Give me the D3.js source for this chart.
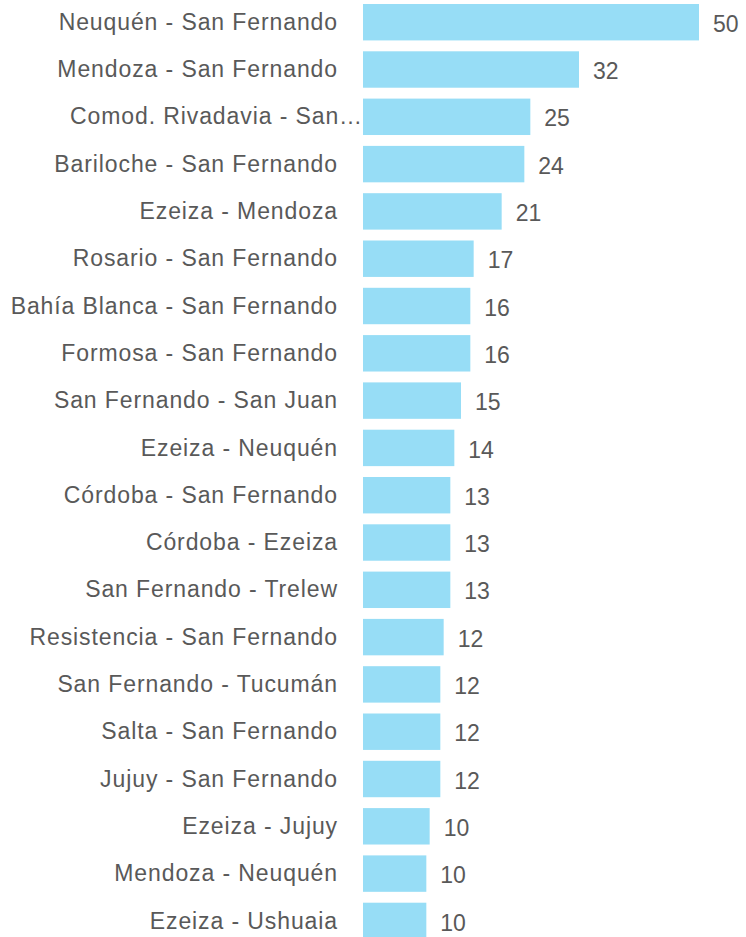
<!DOCTYPE html>
<html lang="es">
<head>
    <meta charset="UTF-8">
    <title>Rutas</title>
    <script src="https://d3js.org/d3.v7.min.js"></script>
    <style>
        body { margin: 0; background: #fff; }
        text { font-family: Arial, "Liberation Sans", Helvetica, sans-serif; }
    </style>
</head>
<body>
    <div id="chart"></div>
    <script>
        // rutas (categorías)
        const routes = [
            "Neuquén - San Fernando",
            "Mendoza - San Fernando",
            "Comod. Rivadavia - San Fernando",
            "Bariloche - San Fernando",
            "Ezeiza - Mendoza",
            "Rosario - San Fernando",
            "Bahía Blanca - San Fernando",
            "Formosa - San Fernando",
            "San Fernando - San Juan",
            "Ezeiza - Neuquén",
            "Córdoba - San Fernando",
            "Córdoba - Ezeiza",
            "San Fernando - Trelew",
            "Resistencia - San Fernando",
            "San Fernando - Tucumán",
            "Salta - San Fernando",
            "Jujuy - San Fernando",
            "Ezeiza - Jujuy",
            "Mendoza - Neuquén",
            "Ezeiza - Ushuaia"
        ];

        // valores (largo de barra)
        const values = [50.4, 32.4, 25.1, 24.2, 20.8, 16.6, 16.1, 16.1, 14.7, 13.7,
                        13.1, 13.1, 13.1, 12.1, 11.6, 11.6, 11.6, 10.0, 9.5, 9.5];

        const data = routes.map((r, i) => ({route: r, value: values[i]}));

        const width = 746, height = 937;
        const x0 = 363;          // inicio de las barras
        const labelEnd = 338;    // borde derecho de las etiquetas

        const svg = d3.select("#chart")
            .append("svg")
            .attr("width", width)
            .attr("height", height);

        const x = d3.scaleLinear()
            .domain([0, d3.max(values)])
            .range([x0, x0 + 336]);

        const y = d3.scaleBand()
            .domain(routes)
            .range([-1.44, 944.56])
            .paddingInner(0.23)
            .paddingOuter(0.115);

        // barras
        svg.selectAll("rect")
            .data(data)
            .join("rect")
            .attr("x", x(0))
            .attr("y", d => y(d.route))
            .attr("width", d => x(d.value) - x(0))
            .attr("height", y.bandwidth())
            .attr("fill", "#97ddf6");

        // etiquetas de categoría
        const labels = svg.append("g")
            .selectAll("text")
            .data(data)
            .join("text")
            .attr("x", labelEnd)
            .attr("y", d => y(d.route) + y.bandwidth() / 2)
            .attr("dy", "0.33em")
            .attr("text-anchor", "end")
            .attr("fill", "#595959")
            .style("font-size", "23px")
            .style("letter-spacing", "0.9px")
            .text(d => d.route);

        // recortar etiquetas largas con "…"
        labels.each(function(d) {
            const t = d3.select(this);
            if (this.getComputedTextLength() > labelEnd) {
                let s = d.route;
                while (s.length > 0 && this.getComputedTextLength() > 296) {
                    s = s.slice(0, -1).trimEnd();
                    t.text(s + "…");
                }
                t.attr("x", x0);
            }
        });

        // etiquetas de valor
        svg.append("g")
            .selectAll("text")
            .data(data)
            .join("text")
            .attr("x", d => x(d.value) + 14)
            .attr("y", d => y(d.route) + y.bandwidth() / 2)
            .attr("dy", "0.42em")
            .attr("fill", "#595959")
            .style("font-size", "23px")
            .text(d => d3.format(".0f")(d.value));
    </script>
</body>
</html>
